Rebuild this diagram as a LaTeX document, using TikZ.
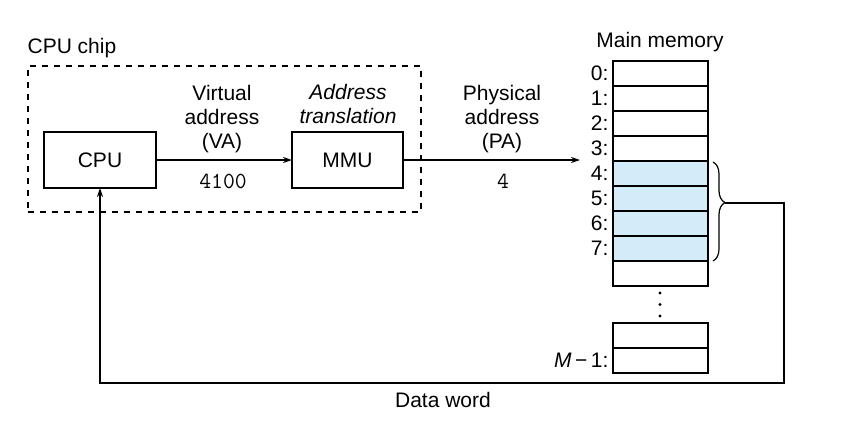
\documentclass[tikz,border=0pt]{standalone}
\usepackage{fontspec}
\setmainfont{Liberation Sans}
\usetikzlibrary{arrows.meta,decorations.pathreplacing}
\definecolor{memblue}{RGB}{212,236,249}
\begin{document}
\begin{tikzpicture}[x=0.5pt,y=-0.5pt,
  font=\fontsize{10.5}{12}\selectfont,
  line width=0.6pt,
  box/.style={draw,minimum width=56pt,minimum height=28pt,inner sep=0pt,outer sep=0pt},
  cell/.style={draw,minimum width=47.5pt,minimum height=12.5pt,inner sep=0pt,outer sep=0pt,anchor=north west},
  bluecell/.style={cell,fill=memblue},
  lbl/.style={anchor=east,inner sep=0pt},
  txt/.style={align=center,inner sep=0pt},
  num/.style={inner sep=0pt,font=\fontsize{11.5}{12}\selectfont\ttfamily},
  arr/.style={-{Stealth[length=4.5pt,width=3pt]}},
  dot/.style={circle,fill,inner sep=0pt,minimum size=1.6pt}]
\useasboundingbox (0,0) rectangle (862,429);

% CPU chip
\node[anchor=west,inner sep=0pt] (chiplbl) at (27,48) {CPU chip};
\node[draw,dashed,inner sep=0pt,outer sep=0pt,minimum width=196.5pt,minimum height=73pt] (chip) at (224.5,139) {};
\node[box] (cpu) at (100,160) {CPU};
\node[box,minimum width=55.5pt] (mmu) at (347.5,160) {MMU};
\node[txt] (va) at (222,119) {Virtual\\address\\(VA)};
\node[num] (vanum) at (223,181) {4100};
\node[txt,font=\fontsize{10.5}{12}\selectfont\itshape] (at) at (348,104) {Address\\translation};
\node[txt] (pa) at (502,119) {Physical\\address\\(PA)};
\node[num] (panum) at (503,181) {4};

% Main memory
\node[txt] (mmlbl) at (660,42) {Main memory};
\foreach \i in {0,...,3} {
  \node[cell] (c\i) at (613,{61+25*\i}) {};
}
\foreach \i in {4,...,7} {
  \node[bluecell] (c\i) at (613,{61+25*\i}) {};
}
\node[cell] (c8) at (613,261) {};
\draw[line width=1pt] (c7.south west) -- (c7.south east);
\foreach \i in {0,...,7} {
  \node[lbl] (l\i) at (609,{73.5+25*\i}) {\i:};
}
\node[dot] (d1) at (660,293) {};
\node[dot] (d2) at (660,304.5) {};
\node[dot] (d3) at (660,316) {};
\node[cell] (e0) at (613,323) {};
\node[cell] (e1) at (613,348) {};
\node[lbl] (lm) at (609,360.5) {\textit{M}\,−\,1:};

% brace
\coordinate (btop) at (713,162);
\coordinate (bbot) at (713,261);
\draw[decorate,decoration={brace,amplitude=6pt,aspect=0.41}] (btop) -- (bbot);
\coordinate (tip) at (725,203);
\coordinate (r1) at (784,203);
\coordinate (r2) at (784,383);
\coordinate (r3) at (100,383);
\coordinate (pain) at (580,160);

% connectors
\draw[arr] (cpu) -- (mmu);
\draw[arr] (mmu.east) -- (pain);
\draw[arr] (tip) -- (r1) -- (r2) -- (r3) -- (cpu.south);
\node[txt] (dw) at (443,400) {Data word};
\end{tikzpicture}
\end{document}
